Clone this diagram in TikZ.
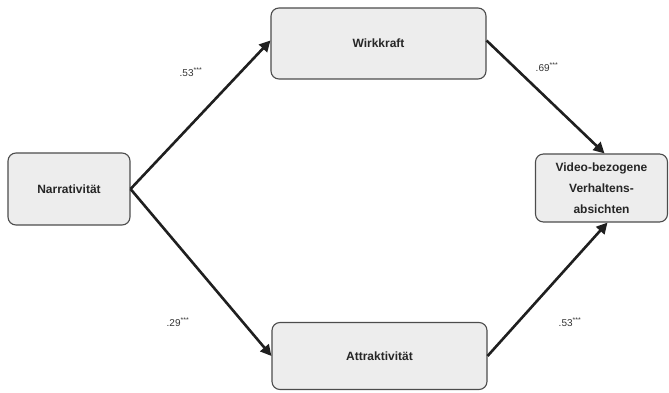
\documentclass[tikz,border=0pt]{standalone}
\usepackage{fontspec}
\setmainfont{Liberation Sans}
\usetikzlibrary{arrows.meta}
\begin{document}
\begin{tikzpicture}[x=1pt,y=-1pt,
  box/.style={draw=black!70, line width=1.1pt, rounded corners=8pt, fill=black!7, align=center,
    font=\fontsize{12}{21}\selectfont\bfseries, text=black!85, inner sep=0pt},
  link/.style={line width=2.6pt, draw=black!88, -{Triangle[length=11pt,width=11pt]}},
  coef/.style={font=\fontsize{10}{12}\selectfont, text=black!80}]
\useasboundingbox (0,0) rectangle (669,393);
\node[box, minimum width=122pt, minimum height=72pt] (narr) at (69,189) {Narrativität};
\node[box, minimum width=215pt, minimum height=71pt] (wirk) at (378.5,43.5) {Wirkkraft};
\node[box, minimum width=215pt, minimum height=67pt] (attr) at (379.5,356) {Attraktivität};
\node[box, minimum width=132pt, minimum height=68pt] (video) at (601.5,188) {Video-bezogene\\Verhaltens-\\absichten};
\draw[link] (narr.east) -- ([yshift=3pt]wirk.west);
\draw[link] ([yshift=3pt]wirk.east) -- ([xshift=3pt]video.north);
\draw[link] (narr.east) -- (attr.west);
\draw[link] (attr.east) -- ([xshift=6pt]video.south);
\node[coef] (c1) at (191,72) {.53\textsuperscript{***}};
\node[coef] (c2) at (547,67) {.69\textsuperscript{***}};
\node[coef] (c3) at (178,322) {.29\textsuperscript{***}};
\node[coef] (c4) at (570,322) {.53\textsuperscript{***}};
\end{tikzpicture}
\end{document}
